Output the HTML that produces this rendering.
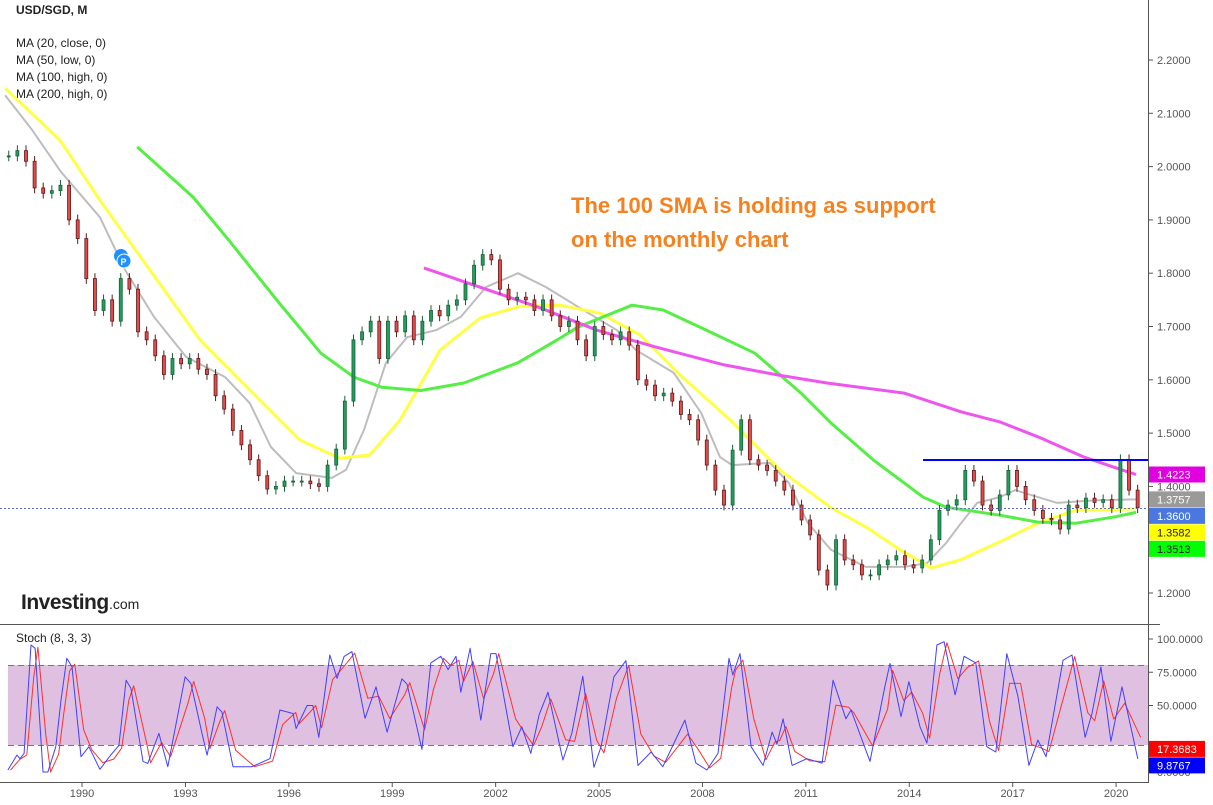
<!DOCTYPE html>
<html><head><meta charset="utf-8"><style>
body{margin:0;background:#fff;font-family:"Liberation Sans",sans-serif}
svg{display:block}
</style></head><body>
<svg id="c" width="1213" height="805" xmlns="http://www.w3.org/2000/svg" font-family="Liberation Sans, sans-serif">
<rect width="1213" height="805" fill="#fff"/>
<text x="16" y="14" font-size="12" font-weight="bold" fill="#222">USD/SGD, M</text>
<g font-size="12" fill="#222">
<text x="16" y="47">MA (20, close, 0)</text>
<text x="16" y="64">MA (50, low, 0)</text>
<text x="16" y="81">MA (100, high, 0)</text>
<text x="16" y="98">MA (200, high, 0)</text>
</g>
<rect x="8" y="665" width="1140" height="80" fill="#dfc0e0"/>
<line x1="8" y1="665.5" x2="1148" y2="665.5" stroke="#777" stroke-dasharray="6,4"/>
<line x1="8" y1="745.5" x2="1148" y2="745.5" stroke="#777" stroke-dasharray="6,4"/>
<g id="mas"></g><g id="candles"></g><g id="stoch"></g>
<line x1="0" y1="508.5" x2="1148" y2="508.5" stroke="#5a6fd0" stroke-dasharray="2,2"/>
<line x1="923" y1="460" x2="1148" y2="460" stroke="#0000ff" stroke-width="2"/>
<line x1="1148.5" y1="0" x2="1148.5" y2="783" stroke="#555"/>
<line x1="0" y1="624.5" x2="1160" y2="624.5" stroke="#555"/>
<line x1="0" y1="782.5" x2="1148" y2="782.5" stroke="#555"/>
<g id="axes" font-size="11" fill="#555"></g>
<text x="571" y="213" font-size="22" font-weight="bold" fill="#f58220">The 100 SMA is holding as support</text>
<text x="571" y="247" font-size="22" font-weight="bold" fill="#f58220">on the monthly chart</text>
<g><text x="21" y="609" font-size="21" font-weight="bold" fill="#222" letter-spacing="-0.5">Investing</text><text x="109" y="609" font-size="14" fill="#222">.com</text></g>
<text x="16" y="642" font-size="12" fill="#222">Stoch (8, 3, 3)</text>
<g><circle cx="121" cy="256" r="7" fill="#1e90ff"/><circle cx="124" cy="261" r="7" fill="#1e90ff" stroke="#fff"/><text x="120.5" y="265" font-size="9" fill="#fff" font-weight="bold">P</text></g>
</svg>
<script>
const closeStart=1987.75, closeStep=0.25;
const closes=[2.02,2.03,2.01,1.96,1.95,1.955,1.965,1.90,1.865,1.79,1.73,1.75,1.71,1.79,1.77,1.69,1.675,1.645,1.61,1.64,1.63,1.64,1.62,1.61,1.57,1.545,1.505,1.478,1.45,1.42,1.395,1.40,1.41,1.41,1.41,1.405,1.40,1.44,1.47,1.56,1.675,1.69,1.71,1.64,1.71,1.69,1.72,1.675,1.71,1.73,1.72,1.74,1.75,1.78,1.815,1.835,1.825,1.77,1.75,1.755,1.75,1.73,1.75,1.72,1.70,1.71,1.675,1.645,1.70,1.685,1.675,1.69,1.665,1.60,1.59,1.57,1.575,1.56,1.535,1.525,1.487,1.44,1.393,1.365,1.468,1.525,1.45,1.44,1.43,1.41,1.393,1.365,1.337,1.309,1.243,1.215,1.30,1.262,1.253,1.234,1.234,1.253,1.262,1.27,1.253,1.247,1.262,1.30,1.355,1.365,1.375,1.43,1.41,1.365,1.355,1.384,1.43,1.40,1.375,1.355,1.34,1.337,1.32,1.365,1.36,1.378,1.37,1.375,1.36,1.45,1.393,1.36];
const ma20Years=[1987.77,1988.55,1989.39,1990.52,1991.25,1992.09,1993.02,1994.15,1994.87,1995.48,1996.21,1997.25,1997.66,1998.18,1998.82,1999.43,2000.27,2000.99,2001.72,2002.65,2003.46,2004.39,2005.52,2006.07,2007.17,2007.96,2008.51,2008.86,2009.96,2010.51,2011.06,2011.73,2012.74,2013.85,2014.51,2015.07,2015.5,2015.97,2016.63,2017.07,2017.73,2018.29,2019.42,2020.58];
const ma20Vals=[2.134,2.069,1.99,1.905,1.806,1.718,1.643,1.605,1.556,1.474,1.425,1.416,1.431,1.506,1.632,1.68,1.693,1.718,1.774,1.80,1.774,1.737,1.693,1.656,1.613,1.538,1.455,1.44,1.444,1.406,1.331,1.281,1.249,1.249,1.256,1.294,1.331,1.369,1.38,1.393,1.38,1.369,1.374,1.3757];
const ma50Years=[1987.77,1989.36,1990.52,1991.97,1993.42,1995.16,1996.32,1997.48,1998.35,1999.23,2000.39,2001.55,2002.71,2003.87,2005.03,2006.19,2007.35,2008.80,2010.25,2011.73,2012.74,2013.73,2014.63,2015.47,2016.63,2017.73,2018.84,2019.82,2020.58];
const ma50Vals=[2.147,2.05,1.937,1.806,1.675,1.562,1.487,1.453,1.459,1.525,1.656,1.716,1.738,1.74,1.725,1.684,1.609,1.525,1.431,1.36,1.324,1.281,1.247,1.262,1.296,1.331,1.356,1.356,1.3582];
const ma100Years=[1991.6,1993.22,1994.26,1995.72,1996.93,1997.89,1998.70,1999.83,2001.08,2002.65,2003.87,2004.39,2005.96,2006.86,2008.28,2009.52,2010.86,2011.73,2012.95,2014.40,2015.07,2016.63,2017.73,2018.84,2019.97,2020.58];
const ma100Vals=[2.037,1.943,1.862,1.744,1.65,1.605,1.586,1.58,1.594,1.632,1.678,1.699,1.74,1.731,1.688,1.65,1.575,1.519,1.45,1.38,1.361,1.346,1.333,1.331,1.343,1.3513];
const ma200Years=[1999.92,2003.29,2004.94,2006.62,2008.63,2010.19,2011.61,2013.85,2015.5,2016.63,2017.73,2019.07,2020.17,2020.58];
const ma200Vals=[1.81,1.735,1.693,1.662,1.628,1.609,1.594,1.575,1.54,1.521,1.493,1.455,1.431,1.4223];
const stochYears=[1987.85,1988.11,1988.20,1988.32,1988.52,1988.64,1988.87,1989.01,1989.24,1989.39,1989.56,1989.71,1989.97,1990.20,1990.52,1990.84,1991.07,1991.28,1991.42,1991.77,1991.91,1992.23,1992.49,1992.99,1993.16,1993.48,1993.63,1993.92,1994.06,1994.38,1994.93,1995.45,1995.74,1996.12,1996.21,1996.53,1996.70,1996.87,1997.19,1997.40,1997.60,1997.83,1998.21,1998.53,1998.85,1999.28,1999.43,1999.86,2000.12,2000.41,2000.62,2000.85,2000.99,2001.26,2001.57,2001.86,2002.01,2002.50,2002.76,2003.02,2003.26,2003.52,2003.95,2004.21,2004.53,2004.85,2005.06,2005.43,2005.78,2006.13,2006.51,2006.85,2007.49,2007.81,2008.13,2008.45,2008.77,2008.88,2009.09,2009.41,2009.76,2010.02,2010.16,2010.34,2010.60,2011.03,2011.47,2011.79,2012.16,2012.31,2012.86,2013.29,2013.44,2013.76,2013.99,2014.31,2014.51,2014.80,2015.01,2015.33,2015.59,2015.93,2016.25,2016.51,2016.83,2017.15,2017.47,2017.73,2017.97,2018.46,2018.72,2019.10,2019.30,2019.56,2019.85,2020.17,2020.63];
const stochK=[1.5,12.7,10,14,95.5,93,0,0,19,54,85.5,79,11.5,19,2,13,20,69,63,8,6.5,29,4,71.6,66.6,29,12.7,49,45,4,4,10,46.6,44,32.7,50,50,26,88,70.4,86.8,90.5,40.4,64,30,70,66,17,82,87,77,87,60,93,39,89,89,19,34,14,43,60,9,29,72,3.5,19,71.6,83.7,5,15,4,39,6.7,1.5,14,85.5,72.9,89,19,5,30,21,40,5,10,6.7,69,40,46.6,8,64,81.6,41.6,68,34,21.7,95.5,98,58,87,82,19,15,89,57,5,24,11.6,84,88,26,44,79,23,64,9.8767];
const priceTicks=[2.2,2.1,2.0,1.9,1.8,1.7,1.6,1.5,1.4,1.2];
const stochTicks=[100,75,50,0];
const yearTicks=[1990,1993,1996,1999,2002,2005,2008,2011,2014,2017,2020];
const lastLabels=[["1.4223",1.4223,"#e000e0","#fff"],["1.3757",1.3757,"#9a9a9a","#fff"],["1.3600",1.36,"#4a78e0","#fff"],["1.3582",1.3582,"#ffff00","#222"],["1.3513",1.3513,"#00ff00","#222"]];
const stochLabels=[["17.3683",17.3683,"#ff0000","#fff"],["9.8767",9.8767,"#0000ff","#fff"]];

const NS="http://www.w3.org/2000/svg";
const xT=t=>82+(t-1990)*34.47;
const yP=p=>593-(p-1.2)*533;
const yS=s=>772-s*1.33;
function mk(tag,attrs,parent){const e=document.createElementNS(NS,tag);for(const k in attrs)e.setAttribute(k,attrs[k]);parent.appendChild(e);return e;}
const gm=document.getElementById('mas'),gc=document.getElementById('candles'),gs=document.getElementById('stoch'),ga=document.getElementById('axes');
function line(years,vals,color,w,name,yf,parent){
  const pts=years.map((t,i)=>xT(t).toFixed(1)+','+yf(vals[i]).toFixed(1)).join(' ');
  const el=mk('polyline',{points:pts,fill:'none',stroke:color,'stroke-width':w,'stroke-linejoin':'round'},parent);
  
  
}
line(ma20Years,ma20Vals,'#bdbdbd',2,'ma20-line',yP,gm);
line(ma50Years,ma50Vals,'#ffff44',3,'ma50-line',yP,gm);
line(ma100Years,ma100Vals,'#55ee44',3,'ma100-line',yP,gm);
line(ma200Years,ma200Vals,'#ee55ee',3,'ma200-line',yP,gm);
closes.forEach((c,i)=>{
  const o=i?closes[i-1]:c;
  const t=closeStart+i*closeStep+closeStep/2;
  const x=xT(t);
  const up=c>=o;
  const hi=Math.max(o,c)+0.01, lo=Math.min(o,c)-0.01;
  const g=mk('g',{},gc);
  
  
  mk('line',{x1:x,y1:yP(hi),x2:x,y2:yP(lo),stroke:up?'#1b5e34':'#5a1a1a','stroke-width':1},g);
  const y1=yP(Math.max(o,c)),y2=yP(Math.min(o,c));
  mk('rect',{x:x-1.5,y:y1,width:3,height:Math.max(1,y2-y1),fill:up?'#1fa060':'#e84a4a',stroke:up?'#1b5e34':'#5a1a1a','stroke-width':0.8},g);
});
line(stochYears.map(t=>t+0.08),stochK.map((v,i)=>i>0?(v*0.7+stochK[i-1]*0.3):v),'#ff3030',1,'stoch-d-line',yS,gs);
line(stochYears,stochK,'#4040ff',1,'stoch-k-line',yS,gs);
priceTicks.forEach(p=>{
  const y=yP(p);
  mk('line',{x1:1148,y1:y,x2:1153,y2:y,stroke:'#555'},ga);
  const t=mk('text',{x:1157,y:y+4},ga);t.textContent=p.toFixed(4);
  
  
});
stochTicks.forEach(s=>{
  const y=yS(s);
  mk('line',{x1:1148,y1:y,x2:1153,y2:y,stroke:'#555'},ga);
  const t=mk('text',{x:1157,y:y+4},ga);t.textContent=s.toFixed(4);
  
  
});
yearTicks.forEach(yr=>{
  const x=xT(yr);
  mk('line',{x1:x,y1:782,x2:x,y2:787,stroke:'#555'},ga);
  const t=mk('text',{x:x,y:797,'text-anchor':'middle'},ga);t.textContent=yr;
  
  
});
function badge(arr,yf,name){
  let prev=-1e9;
  arr.map(a=>[a,yf(a[1])]).sort((a,b)=>a[1]-b[1]).forEach(([[txt,v,bg,fg],yy])=>{
  const y=Math.max(yy,prev+16.5);prev=y;
  const g=mk('g',{},ga);
  
  
  mk('rect',{x:1149,y:y-8,width:56,height:16,fill:bg},g);
  const t=mk('text',{x:1157,y:y+4,fill:fg,'font-size':11},g);t.textContent=txt;
});}
badge(lastLabels,yP,'last-value-label');
badge(stochLabels,yS,'stoch-value-label');
</script>
</body></html>
